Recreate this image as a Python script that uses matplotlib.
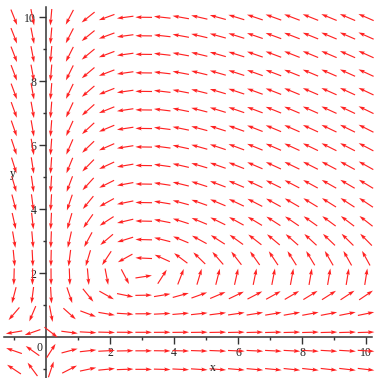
import numpy as np
import matplotlib
matplotlib.use('Agg')
import matplotlib.pyplot as plt

# Predator-prey system: x' = a*x - b*x*y, y' = -c*y + d*x*y
a = 1.0
b = 0.5
c = 0.75
d = 0.25

# 20 x 20 grid of arrows on [-1, 10] x [-1, 10]
grid_x = np.linspace(-1, 10, 20)
grid_y = np.linspace(-1, 10, 20)

x_ticks = [2, 4, 6, 8, 10]
y_ticks = [2, 4, 6, 8, 10]
minor_ticks = [-1, 1, 3, 5, 7, 9]

arrow_len = 0.52

fig = plt.figure(figsize=(3.75, 3.78), dpi=100)
ax = fig.add_axes([0, 0, 1, 1])

X, Y = np.meshgrid(grid_x, grid_y)
U = a * X - b * X * Y
V = -c * Y + d * X * Y
n = np.hypot(U, V)
n[n == 0] = 1
U = U / n * arrow_len
V = V / n * arrow_len

ax.quiver(X, Y, U, V, color='#ff2222', angles='xy', scale_units='xy', scale=1,
          units='xy', width=0.036, headwidth=3.4, headlength=5.5,
          headaxislength=4.8, pivot='mid', zorder=3)

ax.set_xlim(-1.4375, 10.28)
ax.set_ylim(-1.27, 10.54)

# Maple-like axes crossing at origin
for s in ['top', 'right']:
    ax.spines[s].set_visible(False)
ax.spines['left'].set_position(('data', 0))
ax.spines['bottom'].set_position(('data', 0))
ax.spines['left'].set_bounds(-1.27, 10.31)
ax.spines['bottom'].set_bounds(-1.31, 10.2)
for s in ['left', 'bottom']:
    ax.spines[s].set_color('#333333')
    ax.spines[s].set_linewidth(1.1)

ax.set_xticks(x_ticks)
ax.set_yticks(y_ticks)
ax.set_xticks(minor_ticks, minor=True)
ax.set_yticks(minor_ticks, minor=True)

font = dict(family='Liberation Serif', size=8.5, color='#222222')
ax.set_xticklabels([str(t) for t in x_ticks], fontdict=font)
ax.set_yticklabels([str(t) for t in y_ticks], fontdict=font)
ax.tick_params(which='major', direction='out', length=5, width=1, color='#333333', pad=2)
ax.tick_params(which='minor', direction='out', length=2.5, width=1, color='#333333')

ax.text(-0.2, -0.34, '0', ha='center', va='center', **font)
ax.text(5.2, -0.97, 'x', ha='center', va='center', **font)
ax.text(-1.05, 5.1, 'y', ha='center', va='center', **font)

plt.savefig('out.png', dpi=100)
